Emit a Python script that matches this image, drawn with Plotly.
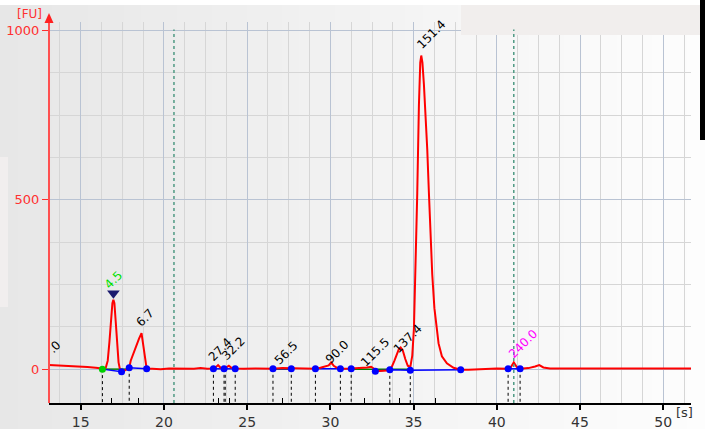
import plotly.graph_objects as go

# Electropherogram trace: migration time [s] vs fluorescence [FU]
time_s = [13.09, 13.6, 14.2, 14.8, 15.4, 15.9, 16.3, 16.5, 16.62, 16.72, 16.82, 16.9, 16.96,
          17.02, 17.1, 17.18, 17.27, 17.35, 17.45, 17.6, 17.75, 17.91, 18.0, 18.25, 18.5,
          18.65, 18.75, 18.85, 18.96, 19.3, 19.8, 20.3, 20.8, 21.3, 21.8, 22.2, 22.6, 22.97,
          23.1, 23.25, 23.4, 23.6, 23.75, 23.9, 24.05, 24.28, 24.8, 25.5, 26.0, 26.55, 27.1,
          27.65, 28.3, 29.1, 29.4, 29.7, 29.9, 30.05, 30.2, 30.4, 30.6, 31.25, 31.7, 32.2,
          32.45, 32.6, 32.75, 33.1, 33.4, 33.57, 33.7, 33.85, 34.0, 34.12, 34.22, 34.35, 34.5,
          34.65, 34.8, 34.92, 35.02, 35.12, 35.22, 35.32, 35.4, 35.46, 35.53, 35.62, 35.72,
          35.82, 35.92, 36.02, 36.12, 36.25, 36.5, 36.7, 37.0, 37.4, 37.83, 38.3, 39.0, 39.3,
          40.0, 40.68, 40.85, 41.02, 41.2, 41.4, 41.9, 42.3, 42.55, 42.8, 43.2, 44.0, 46.0,
          48.0, 50.0, 51.67]
fu = [12, 11, 9, 8, 6, 4, 2, 4, 25, 80, 150, 195, 205,
      195, 140, 70, 20, 0, -8, -5, 0, 4, 25, 60, 90,
      106, 70, 25, 1, 1, 0, 2, 1, 2, 1, 3, 1, 2,
      5, 12, 4, 3, 5, 10, 4, 2, 1, 2, 1, 1, 3,
      2, 1, 1, 4, 8, 11, 20, 10, 4, 1, 2, 3, 5,
      7, 2, -6, -6, -4, 0, 8, 25, 45, 60, 64, 55, 30,
      10, 6, 40, 120, 290, 520, 780, 905, 926, 905, 840, 750,
      650, 520, 390, 280, 180, 76, 38, 17, 4, -2, -2, 0, 2,
      2, 1, 6, 20, 6, 1, 3, 8, 12, 5, 2, 2, 2,
      2, 2, 2]

# Peak / region boundary markers
green_dot_t = [16.3]
green_dot_fu = [0]
dot_t = [17.45, 17.91, 18.96, 22.97, 23.61, 24.28, 26.55, 27.65, 29.1, 30.6, 31.25,
         32.7, 33.57, 34.8, 37.83, 40.68, 41.4]
dot_fu = [-8, 4, 1, 1, 1, 1, 1, 1, 1, 1, 1, -6, -2, -3, -2, 1, 1]

# Peak baselines (groups of boundary points)
baseline_groups = [
    ([16.3, 17.45, 17.91, 18.96], [0, -8, 4, 1]),
    ([22.97, 23.61, 24.28], [1, 1, 1]),
    ([26.55, 27.65], [1, 1]),
    ([29.1, 30.6, 31.25], [1, 1, 1]),
    ([32.7, 33.57, 34.8, 37.83], [-6, -2, -3, -2]),
    ([40.68, 41.4], [1, 1]),
]
region_groups = [([16.3, 17.91], [0, 0]), ([26.55, 27.65], [0, 0]), ([31.25, 34.8], [0, 0])]

# Region boundaries dropped to the time axis
drop_t = [16.3, 17.91, 22.97, 23.61, 23.68, 24.28, 26.55, 27.65, 29.1, 30.6, 31.25,
          33.57, 34.8, 40.68, 41.4]
drop_fu = [0, 4, 1, 1, 1, 1, 1, 1, 1, 1, 1, -2, -3, 1, 1]

# Peak-time ticks on the time axis
peak_tick_t = [16.85, 18.45, 23.26, 23.92, 27.1, 32.05, 34.15, 36.3]

# Marker positions (lower / upper)
marker_t = [20.6, 41.02]

# Peak size labels [bp]: text, anchor time, anchor FU, colour
label_text = [".0", "4.5", "6.7", "27.4", "32.2", "56.5", "90.0", "115.5", "137.4", "151.4", "240.0"]
label_t = [13.43, 16.96, 18.86, 23.42, 24.2, 27.35, 30.42, 32.71, 34.64, 36.02, 41.57]
label_fu = [65, 263, 150, 58, 62, 47, 50, 50, 88, 988, 74]
label_color = ["#000000", "#00e000", "#000000", "#000000", "#000000", "#000000",
               "#000000", "#000000", "#000000", "#000000", "#ff00ff"]

lower_marker_t = [16.96]
lower_marker_fu = [224]

x_range = [13.09, 51.67]
y_range = [-100, 1025]

W, H = 705, 429
ML, MR, MT, MB = 49, 14, 22, 26
PW, PH = W - ML - MR, H - MT - MB


def px_to_paper(px, py):
    return (px - ML) / PW, (H - MB - py) / PH


fig = go.Figure()

for xs, ys in region_groups:
    fig.add_trace(go.Scatter(x=xs, y=ys, mode="lines", line=dict(color="#008000", width=1.5),
                             hoverinfo="skip", showlegend=False))
for xs, ys in baseline_groups:
    fig.add_trace(go.Scatter(x=xs, y=ys, mode="lines", line=dict(color="#0000ff", width=1.5),
                             hoverinfo="skip", showlegend=False))

fig.add_trace(go.Scatter(x=time_s, y=fu, mode="lines", line=dict(color="#ff0000", width=2),
                         showlegend=False))

dx, dy = [], []
for t, v in zip(drop_t, drop_fu):
    dx += [t, t, None]
    dy += [v, y_range[0], None]
fig.add_trace(go.Scatter(x=dx, y=dy, mode="lines", line=dict(color="#000000", width=1, dash="dot"),
                         hoverinfo="skip", showlegend=False))

fig.add_trace(go.Scatter(x=dot_t, y=dot_fu, mode="markers",
                         marker=dict(color="#0000ff", size=7, symbol="circle"), showlegend=False))
fig.add_trace(go.Scatter(x=green_dot_t, y=green_dot_fu, mode="markers",
                         marker=dict(color="#00d000", size=7, symbol="circle"), showlegend=False))
fig.add_trace(go.Scatter(x=lower_marker_t, y=lower_marker_fu, mode="markers",
                         marker=dict(color="#1a1a6e", size=11, symbol="triangle-down"),
                         showlegend=False))

# invisible trace carrying the peak-time tick axis
fig.add_trace(go.Scatter(x=[x_range[0]], y=[0], xaxis="x2", mode="markers",
                         marker=dict(opacity=0), hoverinfo="skip", showlegend=False))

for txt, t, v, c in zip(label_text, label_t, label_fu, label_color):
    fig.add_annotation(x=t, y=v, text=txt, showarrow=False, textangle=-45,
                       font=dict(family="DejaVu Sans", size=12, color=c),
                       xanchor="center", yanchor="middle")

shapes = []
# soft horizontal gradient behind everything
n = 40
for i in range(n):
    c = int(round(231 + (253 - 231) * i / (n - 1)))
    x0, _ = px_to_paper(W * i / n, 0)
    x1, _ = px_to_paper(W * (i + 1) / n + 1, 0)
    _, y0 = px_to_paper(0, H)
    _, y1 = px_to_paper(0, 0)
    shapes.append(dict(type="rect", xref="paper", yref="paper", x0=x0, x1=x1, y0=y0, y1=y1,
                       fillcolor=f"rgb({c},{c},{c})", line=dict(width=0), layer="below"))

# top white strip, side panels
for (px0, py0, px1, py1, col, lay) in [
    (0, 0, W, 5, "#ffffff", "below"),
    (0, 157, 8, 307, "#f1eeee", "below"),
    (461, 5, 700, 35, "#f1eeed", "above"),
    (700, 0, W, 140, "#000000", "above"),
]:
    x0, y1 = px_to_paper(px0, py0)
    x1, y0 = px_to_paper(px1, py1)
    shapes.append(dict(type="rect", xref="paper", yref="paper", x0=x0, x1=x1, y0=y0, y1=y1,
                       fillcolor=col, line=dict(width=0), layer=lay))

# marker lines
for t in marker_t:
    shapes.append(dict(type="line", xref="x", yref="paper", x0=t, x1=t, y0=0, y1=0.98,
                       line=dict(color="#4f9a84", width=1.5, dash="dot"), layer="above"))

# FU axis with arrow head
shapes.append(dict(type="line", xref="paper", yref="paper", x0=0, x1=0, y0=0, y1=1.0,
                   line=dict(color="#ff5050", width=2), layer="above"))
ax0, ay_tip = px_to_paper(ML, 13)
_, ay_base = px_to_paper(ML, 23)
hw = 4.5 / PW
shapes.append(dict(type="path", xref="paper", yref="paper",
                   path=f"M {ax0 - hw},{ay_base} L {ax0 + hw},{ay_base} L {ax0},{ay_tip} Z",
                   fillcolor="#ff2020", line=dict(width=0), layer="above"))
fig.update_layout(shapes=shapes)

fu_x, fu_y = px_to_paper(29, 14)
fig.add_annotation(xref="paper", yref="paper", x=fu_x, y=fu_y, text="[FU]", showarrow=False,
                   xanchor="center", yanchor="middle",
                   font=dict(family="DejaVu Sans", size=12, color="#ff3030"))
s_x, s_y = px_to_paper(684, 412)
fig.add_annotation(xref="paper", yref="paper", x=s_x, y=s_y, text="[s]", showarrow=False,
                   xanchor="center", yanchor="middle",
                   font=dict(family="DejaVu Sans", size=13, color="#333333"))

fig.update_layout(
    width=W, height=H,
    margin=dict(l=ML, r=MR, t=MT, b=MB, pad=0, autoexpand=False),
    paper_bgcolor="#ebebeb",
    plot_bgcolor="rgba(0,0,0,0)",
    showlegend=False,
    xaxis=dict(range=x_range, tick0=0, dtick=5, showgrid=True, gridcolor="#b9c3d3", gridwidth=1,
               minor=dict(tick0=0, dtick=1.25, showgrid=True, gridcolor="#d6d6d6", gridwidth=1),
               showline=True, linecolor="#000000", linewidth=1.5,
               ticks="outside", ticklen=5, tickcolor="#000000", tickwidth=1.5,
               tickfont=dict(family="DejaVu Sans", size=14, color="#333333"),
               zeroline=False, fixedrange=True, automargin=False),
    xaxis2=dict(range=x_range, overlaying="x", side="bottom", tickmode="array",
                tickvals=peak_tick_t, ticks="inside", ticklen=5, tickcolor="#000000",
                tickwidth=1, showticklabels=False, showgrid=False, showline=False,
                zeroline=False, automargin=False),
    yaxis=dict(range=y_range, tickvals=[0, 500, 1000], showgrid=True, gridcolor="#b9c3d3",
               minor=dict(tick0=0, dtick=125, showgrid=True, gridcolor="#d6d6d6"),
               showline=False, ticks="outside", ticklen=6, tickcolor="#ff3030", tickwidth=1,
               tickfont=dict(family="DejaVu Sans", size=13, color="#ff3030"),
               zeroline=False, fixedrange=True, automargin=False),
)

fig.write_html("out.html")
